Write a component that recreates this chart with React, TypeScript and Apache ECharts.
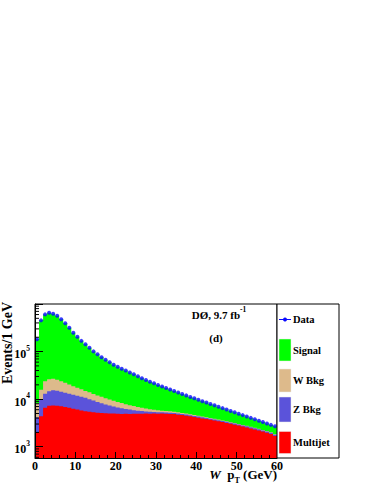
import React, { useEffect, useRef } from "react";
import * as echarts from "echarts";

// 1 GeV bins from 0 to 60 GeV (low edges)
const binLow: number[] = Array.from({ length: 60 }, (_, i) => i);

const dataCounts = [
  181000, 453000, 605000, 657000, 626000, 568000, 476000, 392000, 316000, 250000,
  204000, 168000, 142000, 120000, 101000, 87800, 75900, 67300, 59700, 52900,
  48000, 43600, 40000, 36500, 33400, 30400, 27600, 25300, 23300, 21500,
  19900, 18500, 17200, 16000, 14900, 13800, 12900, 12000, 11100, 10400,
  9710, 9080, 8490, 7930, 7410, 6930, 6480, 6050, 5660, 5290,
  4940, 4620, 4320, 4040, 3770, 3530, 3300, 3080, 2880, 2690,
];

const signal = [
  172800, 437200, 581200, 630700, 599100, 542400, 452200, 370000, 295700, 231300,
  186700, 151900, 127100, 106100, 88100, 75800, 64700, 56800, 49800, 43600,
  39300, 35300, 32100, 29000, 26200, 23500, 21000, 18900, 17100, 15500,
  14000, 12800, 11600, 10400, 9440, 8490, 7750, 7020, 6290, 5780,
  5250, 4780, 4340, 3930, 3540, 3220, 2900, 2620, 2380, 2140,
  1930, 1740, 1570, 1420, 1270, 1150, 1040, 930, 860, 860,
];

const wBkg = [
  4060, 5940, 10800, 11600, 11500, 10500, 9400, 8300, 7300, 6300,
  5500, 4900, 4200, 3900, 3550, 3260, 3000, 2760, 2520, 2260,
  2040, 1830, 1630, 1440, 1290, 1120, 970, 860, 730, 600,
  550, 440, 410, 360, 320, 300, 260, 230, 200, 175,
  150, 140, 130, 120, 115, 110, 100, 95, 90, 85,
  80, 75, 70, 65, 62, 60, 57, 54, 50, 47,
];

const zBkg = [
  2160, 5460, 6370, 7390, 8020, 7790, 7270, 6840, 6430, 6110,
  5770, 5400, 5100, 4560, 4040, 3530, 3060, 2680, 2330, 2030,
  1760, 1550, 1300, 1170, 970, 790, 710, 550, 500, 400,
  350, 330, 300, 290, 290, 280, 270, 260, 250, 240,
  230, 220, 210, 200, 195, 185, 180, 170, 165, 160,
  150, 145, 140, 135, 130, 125, 120, 115, 110, 100,
];

const multijet = [
  2030, 4400, 6630, 7310, 7380, 7310, 7130, 6860, 6570, 6290,
  6030, 5800, 5600, 5440, 5310, 5210, 5140, 5060, 5010, 4970,
  4940, 4900, 4930, 4880, 4910, 4950, 4920, 4970, 4940, 4990,
  4950, 4970, 4920, 4900, 4850, 4730, 4620, 4490, 4360, 4210,
  4080, 3940, 3810, 3680, 3560, 3420, 3300, 3170, 3030, 2910,
  2780, 2660, 2540, 2420, 2310, 2200, 2080, 1980, 1860, 1680,
];

const yMinorTicks = [
  600, 700, 800, 900,
  2000, 3000, 4000, 5000, 6000, 7000, 8000, 9000,
  20000, 30000, 40000, 50000, 60000, 70000, 80000, 90000,
  200000, 300000, 400000, 500000, 600000, 700000, 800000, 900000,
];

const legendNames = ["Data", "Signal", "W Bkg", "Z Bkg", "Multijet"];

const FONT = '"Liberation Serif", "Times New Roman", serif';
const X_MAX = 60;
const Y_MIN = 580;
const Y_MAX = 1e6;
const C_SIGNAL = "#00ff00";
const C_W = "#ddba8b";
const C_Z = "#5b53da";
const C_MJ = "#ff0000";
const C_DATA = "#0a0aff";

export default function App() {
  const ref = useRef<HTMLDivElement>(null);

  useEffect(() => {
    if (!ref.current) return;
    const chart = echarts.init(ref.current, null, { renderer: "svg" });

    const zTop = multijet.map((v, i) => v + zBkg[i]);
    const wTop = zTop.map((v, i) => v + wBkg[i]);
    const sTop = wTop.map((v, i) => v + signal[i]);

    // Filled step histogram: one polygon built through the axis scales
    const hist = (name: string, tops: number[], color: string) => ({
      type: "custom",
      name,
      clip: true,
      z: 2,
      silent: true,
      encode: { x: 0, y: 1 },
      data: binLow.map((x, i) => [x, tops[i]]),
      renderItem: (params: any, api: any) => {
        if (params.dataIndex !== 0) return null;
        const pts: number[][] = [api.coord([binLow[0], Y_MIN])];
        for (let i = 0; i < binLow.length; i++) {
          pts.push(api.coord([binLow[i], tops[i]]));
          pts.push(api.coord([binLow[i] + 1, tops[i]]));
        }
        pts.push(api.coord([X_MAX, Y_MIN]));
        return {
          type: "polygon",
          shape: { points: pts },
          style: { fill: color },
        };
      },
    });

    const txt = { fontFamily: FONT, fontWeight: "bold", color: "#000" };

    const legendY = [319.5, 350, 380.3, 409.2, 442.5];
    const boxes = [
      { y: 339, h: 22, c: C_SIGNAL },
      { y: 369, h: 23, c: C_W },
      { y: 397, h: 25, c: C_Z },
      { y: 431.5, h: 22, c: C_MJ },
    ];

    const graphic: any[] = [
      {
        type: "rect",
        z: 50,
        shape: { x: 277, y: 304, width: 62, height: 154 },
        style: { fill: "#fff", stroke: "#000", lineWidth: 1 },
      },
      {
        type: "line",
        z: 51,
        shape: { x1: 279, y1: legendY[0], x2: 291, y2: legendY[0] },
        style: { stroke: C_DATA, lineWidth: 1 },
      },
      {
        type: "circle",
        z: 51,
        shape: { cx: 285, cy: legendY[0], r: 2 },
        style: { fill: C_DATA },
      },
      ...boxes.map((b) => ({
        type: "rect",
        z: 51,
        shape: { x: 279, y: b.y, width: 12, height: b.h },
        style: { fill: b.c, stroke: "#e8e8e8", lineWidth: 0.5 },
      })),
      ...legendNames.map((n, i) => ({
        type: "text",
        z: 52,
        x: 293,
        y: legendY[i],
        style: {
          text: n,
          font: `bold 10.5px ${FONT}`,
          fill: "#000",
          textAlign: "left",
          textVerticalAlign: "middle",
        },
      })),
      {
        type: "text",
        z: 52,
        x: 219,
        y: 313,
        style: {
          text: "{n|DØ, 9.7 fb}{s|-1}",
          textAlign: "center",
          textVerticalAlign: "middle",
          rich: {
            n: { ...txt, fontSize: 11, lineHeight: 12, padding: [4, 0, 0, 0] },
            s: { ...txt, fontSize: 7.5, lineHeight: 8, padding: [0, 0, 8, 0] },
          },
        },
      },
      {
        type: "text",
        z: 52,
        x: 216,
        y: 337.5,
        style: {
          text: "(d)",
          font: `bold 11px ${FONT}`,
          fill: "#000",
          textAlign: "center",
          textVerticalAlign: "middle",
        },
      },
      {
        type: "text",
        z: 52,
        x: 7.5,
        y: 343,
        rotation: Math.PI / 2,
        style: {
          text: "Events/1 GeV",
          font: `bold 14px ${FONT}`,
          fill: "#000",
          textAlign: "center",
          textVerticalAlign: "middle",
        },
      },
      {
        type: "text",
        z: 52,
        x: 277,
        y: 477,
        style: {
          text: "{i|W}{n|  p}{s|T}{n| (GeV)}",
          textAlign: "right",
          textVerticalAlign: "middle",
          rich: {
            i: { ...txt, fontStyle: "italic", fontSize: 13, lineHeight: 14, padding: [0, 0, 5, 0] },
            n: { ...txt, fontSize: 13, lineHeight: 14, padding: [0, 0, 5, 0] },
            s: { ...txt, fontSize: 8, lineHeight: 9, padding: [8, 0, 2, 0] },
          },
        },
      },
    ];

    const option: any = {
      animation: false,
      backgroundColor: "#fff",
      grid: {
        left: 35,
        top: 304,
        width: 242,
        height: 154,
        show: true,
        borderColor: "#000",
        borderWidth: 1,
        backgroundColor: "transparent",
      },
      xAxis: {
        type: "value",
        min: 0,
        max: X_MAX,
        interval: 10,
        z: 10,
        axisLine: { show: true, onZero: false, lineStyle: { color: "#000", width: 1 } },
        axisTick: { show: true, inside: true, length: 6, lineStyle: { color: "#000" } },
        minorTick: { show: true, splitNumber: 5, length: 3, lineStyle: { color: "#000" } },
        splitLine: { show: false },
        minorSplitLine: { show: false },
        axisLabel: { margin: 2, fontFamily: FONT, fontWeight: "bold", fontSize: 12, color: "#000" },
      },
      yAxis: {
        type: "log",
        logBase: 10,
        min: Y_MIN,
        max: Y_MAX,
        z: 10,
        axisLine: { show: true, onZero: false, lineStyle: { color: "#000", width: 1 } },
        axisTick: { show: true, inside: true, length: 8, lineStyle: { color: "#000" } },
        splitLine: { show: false },
        axisLabel: {
          margin: 5,
          formatter: (v: number) => {
            const l = Math.log10(v);
            const n = Math.round(l);
            if (Math.abs(l - n) > 1e-6 || n < 3 || n > 5) return "";
            return `{b|10}{s|${n}}`;
          },
          rich: {
            b: { ...txt, fontSize: 12, lineHeight: 13, padding: [5, 0, 0, 0] },
            s: { ...txt, fontSize: 7.5, lineHeight: 8, padding: [0, 0, 7, 0] },
          },
        },
      },
      series: [
        hist("Signal", sTop, C_SIGNAL),
        hist("W Bkg", wTop, C_W),
        hist("Z Bkg", zTop, C_Z),
        hist("Multijet", multijet, C_MJ),
        {
          type: "scatter",
          name: "Data",
          z: 5,
          symbol: "circle",
          symbolSize: 4,
          itemStyle: { color: C_DATA },
          data: binLow.map((x, i) => [x + 0.5, dataCounts[i]]),
        },
        {
          type: "custom",
          name: "yMinor",
          z: 20,
          clip: false,
          silent: true,
          encode: { x: 0, y: 1 },
          data: yMinorTicks.map((v) => [0, v]),
          renderItem: (_p: any, api: any) => {
            const p = api.coord([0, api.value(1)]);
            return {
              type: "line",
              shape: { x1: p[0], y1: p[1], x2: p[0] + 4, y2: p[1] },
              style: { stroke: "#000", lineWidth: 1 },
            };
          },
        },
      ],
      graphic,
    };

    chart.setOption(option);
    return () => chart.dispose();
  }, []);

  return (
    <div
      ref={ref}
      style={{ position: "fixed", left: 0, top: 0, width: 374, height: 484 }}
    />
  );
}
